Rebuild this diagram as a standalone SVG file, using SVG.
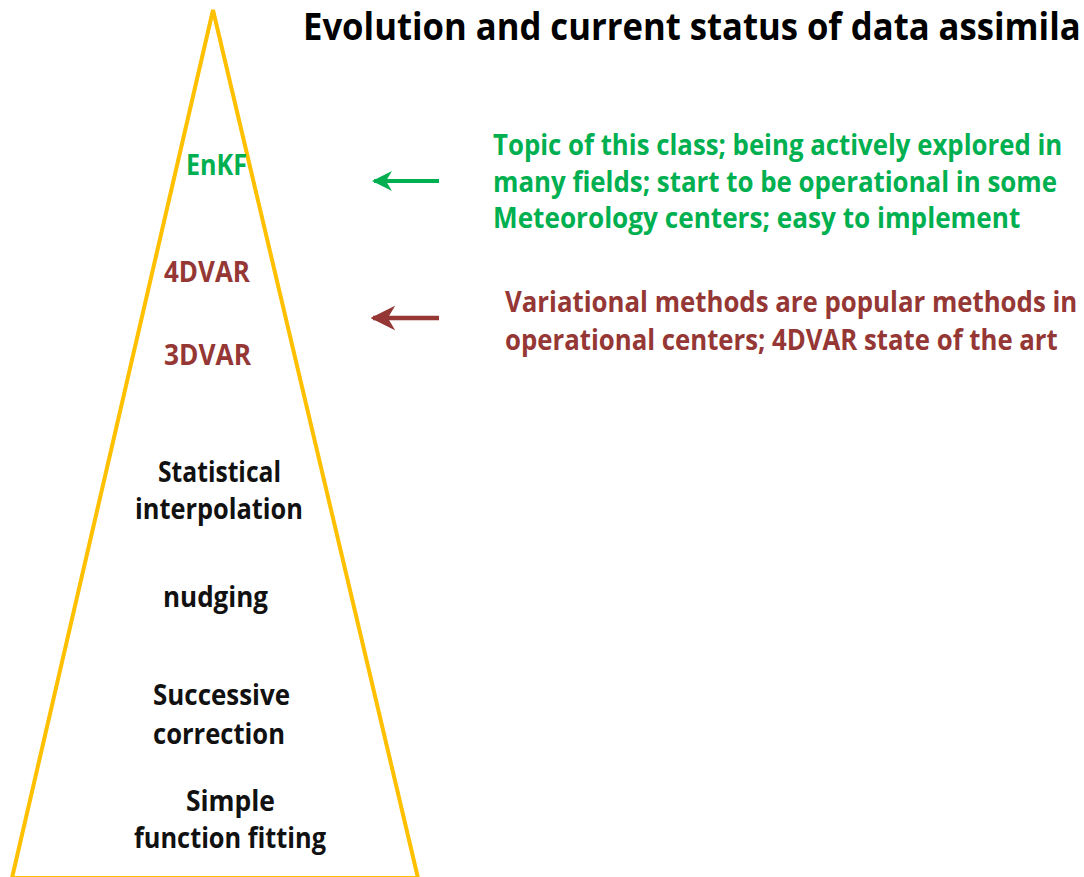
<svg xmlns="http://www.w3.org/2000/svg" width="1084" height="877" viewBox="0 0 1084 877">
  <style>
    text { font-family: "Open Sans", "Liberation Sans", sans-serif; font-weight: bold; }
    .lvl { font-size: 28px; text-anchor: middle; fill: #111111; }
    .green { fill: #00B050; }
    .red { fill: #953735; }
    .note { font-size: 28px; }
    .title { font-size: 37px; fill: #000000; }
  </style>
  <defs>
    <marker id="headG" viewBox="0 0 10 10" refX="9" refY="5" markerWidth="5" markerHeight="5.2" orient="auto" markerUnits="strokeWidth">
      <path d="M10,5 L0,0 L3,5 L0,10 Z" fill="#00B050"/>
    </marker>
    <marker id="headR" viewBox="0 0 10 10" refX="9" refY="5" markerWidth="5.5" markerHeight="6" orient="auto" markerUnits="strokeWidth">
      <path d="M10,5 L0,0 L3,5 L0,10 Z" fill="#953735"/>
    </marker>
  </defs>
  <rect width="1084" height="877" fill="#ffffff"/>

  <!-- pyramid outline -->
  <g id="pyramid">
    <polygon points="213,10 12,878 418,878" fill="none" stroke="#FFC000" stroke-width="4" stroke-linejoin="miter"/>
  </g>

  <!-- title, narrowed horizontally -->
  <g id="title" transform="translate(303,40) scale(0.78,1)">
    <text class="title" x="0" y="0" textLength="997" lengthAdjust="spacingAndGlyphs">Evolution and current status of data assimila</text>
  </g>

  <!-- levels of the pyramid -->
  <g id="enkf"><text class="lvl green" x="216.5" y="175" textLength="61" lengthAdjust="spacingAndGlyphs">EnKF</text></g>
  <g id="fourdvar"><text class="lvl red" x="207" y="282" textLength="86" lengthAdjust="spacingAndGlyphs">4DVAR</text></g>
  <g id="threedvar"><text class="lvl red" x="207.5" y="365" textLength="87" lengthAdjust="spacingAndGlyphs">3DVAR</text></g>
  <g id="statistical">
    <text class="lvl" x="219.5" y="482" textLength="123" lengthAdjust="spacingAndGlyphs">Statistical</text>
    <text class="lvl" x="219" y="519" textLength="168" lengthAdjust="spacingAndGlyphs">interpolation</text>
  </g>
  <g id="nudging"><text class="lvl" x="215.5" y="607" textLength="105" lengthAdjust="spacingAndGlyphs">nudging</text></g>
  <g id="successive">
    <text class="lvl" x="221.5" y="705" textLength="137" lengthAdjust="spacingAndGlyphs">Successive</text>
    <text class="lvl" x="219" y="744" textLength="132" lengthAdjust="spacingAndGlyphs">correction</text>
  </g>
  <g id="fitting">
    <text class="lvl" x="230.5" y="811" textLength="89" lengthAdjust="spacingAndGlyphs">Simple</text>
    <text class="lvl" x="230" y="848" textLength="192" lengthAdjust="spacingAndGlyphs">function fitting</text>
  </g>

  <!-- notes, narrowed horizontally -->
  <g id="note-enkf" transform="translate(493,0) scale(0.75,1)">
    <text class="note green" x="0" y="155" textLength="759" lengthAdjust="spacingAndGlyphs">Topic of this class; being actively explored in</text>
    <text class="note green" x="0" y="192" textLength="752" lengthAdjust="spacingAndGlyphs">many fields; start to be operational in some</text>
    <text class="note green" x="0" y="228" textLength="703" lengthAdjust="spacingAndGlyphs">Meteorology centers; easy to implement</text>
  </g>
  <g id="note-var" transform="translate(505,0) scale(0.75,1)">
    <text class="note red" x="0" y="312" textLength="763" lengthAdjust="spacingAndGlyphs">Variational methods are popular methods in</text>
    <text class="note red" x="0" y="350" textLength="737" lengthAdjust="spacingAndGlyphs">operational centers; 4DVAR state of the art</text>
  </g>

  <!-- connectors -->
  <g id="connectors">
    <line x1="439" y1="181" x2="374" y2="181" stroke="#00B050" stroke-width="4" marker-end="url(#headG)"/>
    <line x1="439" y1="318" x2="373" y2="318" stroke="#953735" stroke-width="4.5" marker-end="url(#headR)"/>
  </g>
</svg>
